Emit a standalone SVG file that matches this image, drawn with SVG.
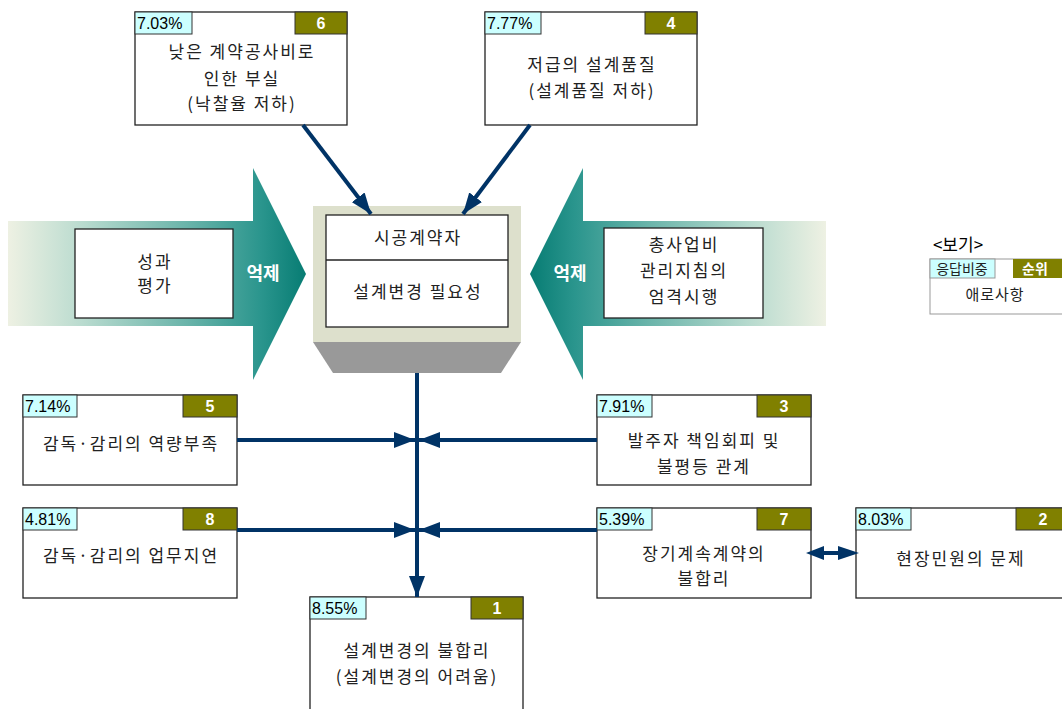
<svg xmlns="http://www.w3.org/2000/svg" width="1062" height="709" viewBox="0 0 1062 709">
<defs>
<linearGradient id="gl" gradientUnits="userSpaceOnUse" x1="8" y1="0" x2="306" y2="0">
<stop offset="0" stop-color="#eef1e3"/>
<stop offset="0.25" stop-color="#b9dbcf"/>
<stop offset="0.6" stop-color="#6ab4aa"/>
<stop offset="0.85" stop-color="#2a958d"/>
<stop offset="1" stop-color="#077c73"/>
</linearGradient>
<linearGradient id="gr" gradientUnits="userSpaceOnUse" x1="826" y1="0" x2="530" y2="0">
<stop offset="0" stop-color="#eef1e3"/>
<stop offset="0.25" stop-color="#b9dbcf"/>
<stop offset="0.6" stop-color="#6ab4aa"/>
<stop offset="0.85" stop-color="#2a958d"/>
<stop offset="1" stop-color="#077c73"/>
</linearGradient>
<marker id="ah" markerUnits="userSpaceOnUse" markerWidth="22" markerHeight="16" refX="21" refY="8" orient="auto">
<path d="M0,0 L21,8 L0,16 Z" fill="#003366"/>
</marker>
</defs>
<style>
.box{fill:#fff;stroke:#222;stroke-width:1.3}
.pct{fill:#ccffff;stroke:#333;stroke-width:1}
.rk{fill:#808000;stroke:#333;stroke-width:1}
.pt{font-family:"Liberation Sans",Arial,sans-serif;font-size:16px;fill:#000}
.rt{font-family:"Liberation Sans",Arial,sans-serif;font-size:16px;font-weight:bold;fill:#fff;text-anchor:middle}
.t{font-family:"Noto Sans CJK KR","Noto Sans",sans-serif;font-size:17px;letter-spacing:2px;fill:#222;text-anchor:middle}
.w{font-family:"Noto Sans CJK KR","Noto Sans",sans-serif;font-size:18px;font-weight:bold;fill:#fff;text-anchor:middle}
.lg{font-family:"Noto Sans CJK KR","Noto Sans",sans-serif;fill:#222;text-anchor:middle}
.c{fill:none;stroke:#003366;stroke-width:4}
.hd{fill:#003366}
</style>
<rect width="1062" height="709" fill="#fff"/>

<g id="arrow-left">
<path d="M8,221 H253 V168 L306,274 L253,380 V326 H8 Z" fill="url(#gl)"/>
<text class="w" x="263" y="280">억제</text>
</g>
<g id="arrow-right">
<path d="M826,221 H583 V168 L530,274 L583,380 V326 H826 Z" fill="url(#gr)"/>
<text class="w" x="570" y="280">억제</text>
</g>

<g id="node-center">
<rect x="313" y="206" width="208" height="136" fill="#dde0cc"/>
<path d="M313,342 H521 L501,373 H333 Z" fill="#999"/>
<rect x="326" y="215" width="182" height="112" class="box"/>
<line x1="326" y1="260" x2="508" y2="260" stroke="#222" stroke-width="1.3"/>
<text class="t" x="418" y="244">시공계약자</text>
<text class="t" x="418" y="298">설계변경 필요성</text>
</g>

<g id="node-perf">
<rect x="75" y="229" width="158" height="89" class="box"/>
<text class="t" x="155" y="268">성과</text>
<text class="t" x="155" y="292">평가</text>
</g>
<g id="node-budget">
<rect x="604" y="228" width="159" height="90" class="box"/>
<text class="t" x="684" y="251">총사업비</text>
<text class="t" x="684" y="277">관리지침의</text>
<text class="t" x="684" y="303">엄격시행</text>
</g>

<g id="node-6">
<rect x="135" y="12" width="212" height="113" class="box"/>
<rect x="135" y="12" width="57" height="22" class="pct"/>
<rect x="295" y="12" width="52" height="22" class="rk"/>
<text class="pt" x="137" y="29">7.03%</text>
<text class="rt" x="321" y="29">6</text>
<text class="t" x="242" y="58">낮은 계약공사비로</text>
<text class="t" x="242" y="85">인한 부실</text>
<text class="t" x="242" y="110">(낙찰율 저하)</text>
</g>
<g id="node-4">
<rect x="485" y="12" width="212" height="113" class="box"/>
<rect x="485" y="12" width="56" height="22" class="pct"/>
<rect x="645" y="12" width="52" height="22" class="rk"/>
<text class="pt" x="487" y="29">7.77%</text>
<text class="rt" x="671" y="29">4</text>
<text class="t" x="592" y="71">저급의 설계품질</text>
<text class="t" x="592" y="97">(설계품질 저하)</text>
</g>

<g id="node-5">
<rect x="23" y="395" width="214" height="90" class="box"/>
<rect x="23" y="395" width="54" height="22" class="pct"/>
<rect x="183" y="395" width="54" height="22" class="rk"/>
<text class="pt" x="25" y="412">7.14%</text>
<text class="rt" x="210" y="412">5</text>
<text class="t" x="131" y="450">감독·감리의 역량부족</text>
</g>
<g id="node-3">
<rect x="597" y="395" width="214" height="90" class="box"/>
<rect x="597" y="395" width="55" height="22" class="pct"/>
<rect x="757" y="395" width="54" height="22" class="rk"/>
<text class="pt" x="599" y="412">7.91%</text>
<text class="rt" x="784" y="412">3</text>
<text class="t" x="704" y="447">발주자 책임회피 및</text>
<text class="t" x="704" y="473">불평등 관계</text>
</g>
<g id="node-8">
<rect x="23" y="508" width="214" height="90" class="box"/>
<rect x="23" y="508" width="54" height="22" class="pct"/>
<rect x="183" y="508" width="54" height="22" class="rk"/>
<text class="pt" x="25" y="525">4.81%</text>
<text class="rt" x="210" y="525">8</text>
<text class="t" x="131" y="562">감독·감리의 업무지연</text>
</g>
<g id="node-7">
<rect x="597" y="508" width="214" height="90" class="box"/>
<rect x="597" y="508" width="55" height="22" class="pct"/>
<rect x="757" y="508" width="54" height="22" class="rk"/>
<text class="pt" x="599" y="525">5.39%</text>
<text class="rt" x="784" y="525">7</text>
<text class="t" x="704" y="560">장기계속계약의</text>
<text class="t" x="704" y="585">불합리</text>
</g>
<g id="node-2">
<rect x="856" y="508" width="212" height="90" class="box"/>
<rect x="856" y="508" width="55" height="22" class="pct"/>
<rect x="1016" y="508" width="52" height="22" class="rk"/>
<text class="pt" x="858" y="525">8.03%</text>
<text class="rt" x="1043" y="525">2</text>
<text class="t" x="961" y="565">현장민원의 문제</text>
</g>
<g id="node-1">
<rect x="310" y="597" width="213" height="120" class="box"/>
<rect x="310" y="597" width="56" height="22" class="pct"/>
<rect x="471" y="597" width="52" height="22" class="rk"/>
<text class="pt" x="312" y="614">8.55%</text>
<text class="rt" x="497" y="614">1</text>
<text class="t" x="417" y="657">설계변경의 불합리</text>
<text class="t" x="417" y="683">(설계변경의 어려움)</text>
</g>

<g id="legend">
<text class="lg" x="958" y="251" style="font-size:17px;fill:#000">&lt;보기&gt;</text>
<rect x="930" y="259" width="140" height="55" fill="#fff" stroke="#999" stroke-width="1"/>
<rect x="930" y="259" width="65" height="19" fill="#ccffff" stroke="#999" stroke-width="1"/>
<rect x="1013" y="259" width="57" height="19" fill="#808000"/>
<text class="lg" x="962" y="274" style="font-size:14px">응답비중</text>
<text class="lg" x="1035" y="274" style="font-size:14px;font-weight:bold;fill:#fff">순위</text>
<text class="lg" x="995" y="300" style="font-size:15px;letter-spacing:1px">애로사항</text>
</g>

<g id="connectors">
<line class="c" x1="303" y1="125" x2="371" y2="214" marker-end="url(#ah)"/>
<line class="c" x1="530" y1="125" x2="463" y2="214" marker-end="url(#ah)"/>
<line class="c" x1="417" y1="373" x2="417" y2="597" marker-end="url(#ah)"/>
<line class="c" x1="237" y1="440" x2="415" y2="440" marker-end="url(#ah)"/>
<line class="c" x1="597" y1="440" x2="419" y2="440" marker-end="url(#ah)"/>
<line class="c" x1="237" y1="530" x2="415" y2="530" marker-end="url(#ah)"/>
<line class="c" x1="597" y1="530" x2="419" y2="530" marker-end="url(#ah)"/>
<line class="c" x1="822" y1="553" x2="840" y2="553"/>
<path class="hd" d="M806,553 L824,546 L824,560 Z"/>
<path class="hd" d="M859,553 L838,546 L838,560 Z"/>
</g>
</svg>
